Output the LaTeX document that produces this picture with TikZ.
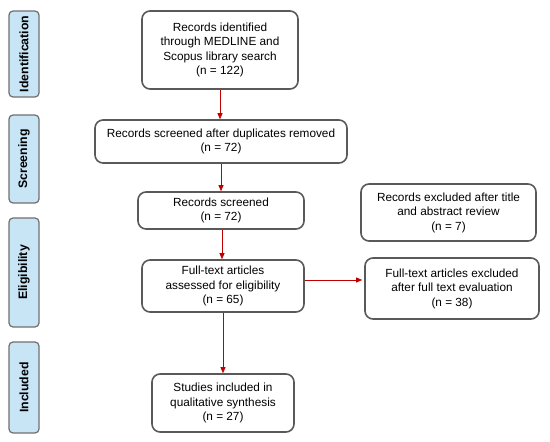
\documentclass[tikz,border=0pt]{standalone}
\usepackage{fontspec}
\setmainfont{Liberation Sans}
\usetikzlibrary{arrows.meta}
\definecolor{sidefill}{HTML}{C8E5F6}
\definecolor{sideline}{HTML}{6F6F6F}
\definecolor{boxline}{HTML}{595959}
\definecolor{arrred}{HTML}{C00000}
\begin{document}
\begin{tikzpicture}[x=1pt,y=-1pt,
  sidebox/.style={draw=sideline,line width=1.2pt,fill=sidefill,rounded corners=4pt,
    minimum width=30pt,inner sep=0pt},
  sidetext/.style={rotate=90,font=\fontsize{12.3}{14}\selectfont\bfseries},
  flowbox/.style={draw=boxline,line width=1.6pt,rounded corners=8pt,fill=white,
    inner sep=0pt,align=center,font=\fontsize{11.8}{14.5}\selectfont},
  arr/.style={draw=arrred,line width=0.8pt,-{Triangle[length=6pt,width=5pt]}}]
\useasboundingbox (0,0) rectangle (550,442);
% side stage boxes
\node[sidebox,minimum height=86pt] (sid) at (24,54) {};
\node[sidetext] (tid) at (sid.center) {Identification};
\node[sidebox,minimum height=88pt] (sscr) at (24,159) {};
\node[sidetext] (tscr) at (sscr.center) {Screening};
\node[sidebox,minimum height=109pt] (sel) at (24,272.5) {};
\node[sidetext] (tel) at (sel.center) {Eligibility};
\node[sidebox,minimum height=91pt] (sinc) at (24,387.5) {};
\node[sidetext] (tinc) at (sinc.center) {Included};
% flow boxes
\node[flowbox,minimum width=156pt,minimum height=78pt] (b1) at (220,50)
  {Records identified\\through MEDLINE and\\Scopus library search\\(n = 122)};
\node[flowbox,minimum width=252pt,minimum height=43pt] (b2) at (221,141.5)
  {Records screened after duplicates removed\\(n = 72)};
\node[flowbox,minimum width=166pt,minimum height=37pt] (b3) at (221,210.5)
  {Records screened\\(n = 72)};
\node[flowbox,minimum width=162pt,minimum height=52pt] (b4) at (223,286)
  {Full-text articles\\assessed for eligibility\\(n = 65)};
\node[flowbox,minimum width=142pt,minimum height=58pt] (b5) at (223,403)
  {Studies included in\\qualitative synthesis\\(n = 27)};
\node[flowbox,minimum width=175pt,minimum height=57pt] (rA) at (448.5,212.5)
  {Records excluded after title\\and abstract review\\(n = 7)};
\node[flowbox,minimum width=174pt,minimum height=61pt] (rB) at (452,288.5)
  {Full-text articles excluded\\after full text evaluation\\(n = 38)};
% arrows
\draw[arr] (b1.south) -- (b1.south |- b2.north);
\draw[arr] (b2.south) -- (b2.south |- b3.north);
\draw[arr] ([xshift=1pt]b3.south) -- ([xshift=1pt]b3.south |- b4.north);
\draw[arr] (b4.south) -- (b4.south |- b5.north);
\draw[arr] ([yshift=6pt]b4.east) -- ([yshift=6pt,xshift=-2pt]b4.east -| rB.west);
\end{tikzpicture}
\end{document}
